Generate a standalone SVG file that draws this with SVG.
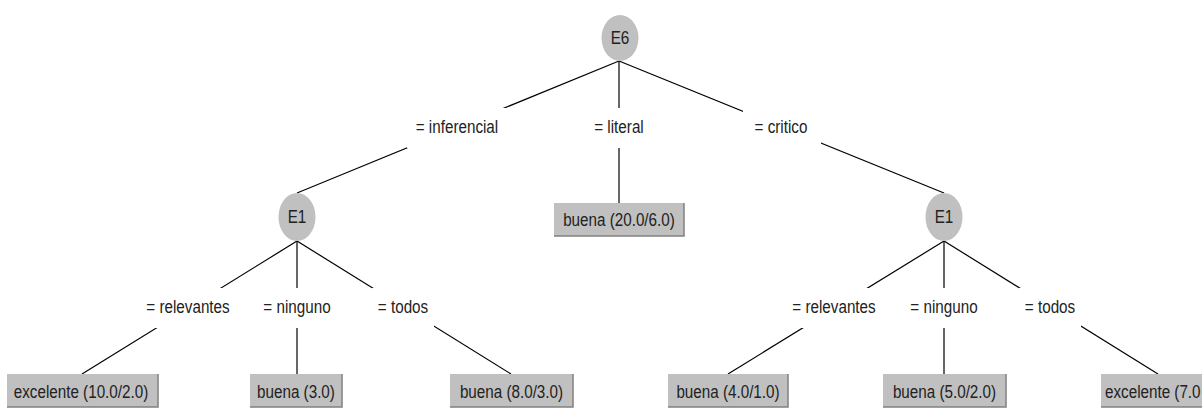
<svg xmlns="http://www.w3.org/2000/svg" width="1202" height="411" viewBox="0 0 1202 411">
  <style>
    .edge { stroke: #000; stroke-width: 1.2; fill: none; }
    .node-oval { fill: #c0c0c0; stroke: none; }
    .leaf-box { fill: #c0c0c0; }
    .shade { stroke: #808080; stroke-width: 1.5; fill: none; }
    .label-bg { fill: #fff; }
    text { font-family: "Liberation Sans", Arial, sans-serif; font-size: 17.5px; fill: #222; text-anchor: middle;
           transform-box: fill-box; transform-origin: center; transform: scaleX(0.87); }
    text.start { text-anchor: start; transform-origin: left; }
  </style>

  <!-- tree edges: parent bottom centre to child top centre -->
  <g id="connectors">
    <line class="edge" x1="619" y1="61" x2="297" y2="193"/>
    <line class="edge" x1="619" y1="61" x2="619" y2="203"/>
    <line class="edge" x1="619" y1="61" x2="944" y2="193"/>
    <line class="edge" x1="297" y1="241" x2="82" y2="374"/>
    <line class="edge" x1="297" y1="241" x2="297" y2="374"/>
    <line class="edge" x1="297" y1="241" x2="511" y2="374"/>
    <line class="edge" x1="944" y1="241" x2="728" y2="374"/>
    <line class="edge" x1="944" y1="241" x2="944" y2="374"/>
    <line class="edge" x1="944" y1="241" x2="1158" y2="374"/>

    <!-- edge labels on white backing -->
    <g id="lbl-inferencial"><rect class="label-bg" x="407" y="108" width="100" height="40"/><text x="457" y="133">= inferencial</text></g>
    <g id="lbl-literal"><rect class="label-bg" x="585" y="108" width="68" height="40"/><text x="619" y="133">= literal</text></g>
    <g id="lbl-critico"><rect class="label-bg" x="743" y="108" width="78" height="40"/><text x="781" y="133">= critico</text></g>
    <g id="lbl-l-relevantes"><rect class="label-bg" x="140" y="288" width="96" height="40"/><text x="188" y="313">= relevantes</text></g>
    <g id="lbl-l-ninguno"><rect class="label-bg" x="257" y="288" width="80" height="40"/><text x="297" y="313">= ninguno</text></g>
    <g id="lbl-l-todos"><rect class="label-bg" x="372" y="288" width="62" height="40"/><text x="403" y="313">= todos</text></g>
    <g id="lbl-r-relevantes"><rect class="label-bg" x="786" y="288" width="96" height="40"/><text x="834" y="313">= relevantes</text></g>
    <g id="lbl-r-ninguno"><rect class="label-bg" x="904" y="288" width="80" height="40"/><text x="944" y="313">= ninguno</text></g>
    <g id="lbl-r-todos"><rect class="label-bg" x="1019" y="288" width="62" height="40"/><text x="1050" y="313">= todos</text></g>
  </g>

  <!-- decision nodes -->
  <g id="node-e6">
    <ellipse class="node-oval" cx="620" cy="38" rx="18.5" ry="23"/>
    <text x="620" y="44">E6</text>
  </g>
  <g id="node-e1-left">
    <ellipse class="node-oval" cx="297" cy="217" rx="18.5" ry="24"/>
    <text x="297" y="223">E1</text>
  </g>
  <g id="node-e1-right">
    <ellipse class="node-oval" cx="944" cy="217" rx="18.5" ry="24"/>
    <text x="944" y="223">E1</text>
  </g>

  <!-- leaf nodes -->
  <g id="leaf-literal">
    <rect class="leaf-box" x="554" y="203" width="130" height="33"/>
    <polyline class="shade" points="554,236 684,236 684,203"/>
    <text x="619" y="226">buena (20.0/6.0)</text>
  </g>
  <g id="leaf-l-relevantes">
    <rect class="leaf-box" x="7" y="374" width="151" height="33"/>
    <polyline class="shade" points="7,407 158,407 158,374"/>
    <text x="81" y="398">excelente (10.0/2.0)</text>
  </g>
  <g id="leaf-l-ninguno">
    <rect class="leaf-box" x="250" y="374" width="92" height="33"/>
    <polyline class="shade" points="250,407 342,407 342,374"/>
    <text x="296" y="398">buena (3.0)</text>
  </g>
  <g id="leaf-l-todos">
    <rect class="leaf-box" x="450" y="374" width="123" height="33"/>
    <polyline class="shade" points="450,407 573,407 573,374"/>
    <text x="511.5" y="398">buena (8.0/3.0)</text>
  </g>
  <g id="leaf-r-relevantes">
    <rect class="leaf-box" x="668" y="374" width="120" height="33"/>
    <polyline class="shade" points="668,407 788,407 788,374"/>
    <text x="728" y="398">buena (4.0/1.0)</text>
  </g>
  <g id="leaf-r-ninguno">
    <rect class="leaf-box" x="883" y="374" width="123" height="33"/>
    <polyline class="shade" points="883,407 1006,407 1006,374"/>
    <text x="944.5" y="398">buena (5.0/2.0)</text>
  </g>
  <g id="leaf-r-todos">
    <rect class="leaf-box" x="1101" y="374" width="101" height="33"/>
    <polyline class="shade" points="1101,407 1202,407"/>
    <text class="start" x="1105" y="398">excelente (7.0</text>
  </g>
</svg>
